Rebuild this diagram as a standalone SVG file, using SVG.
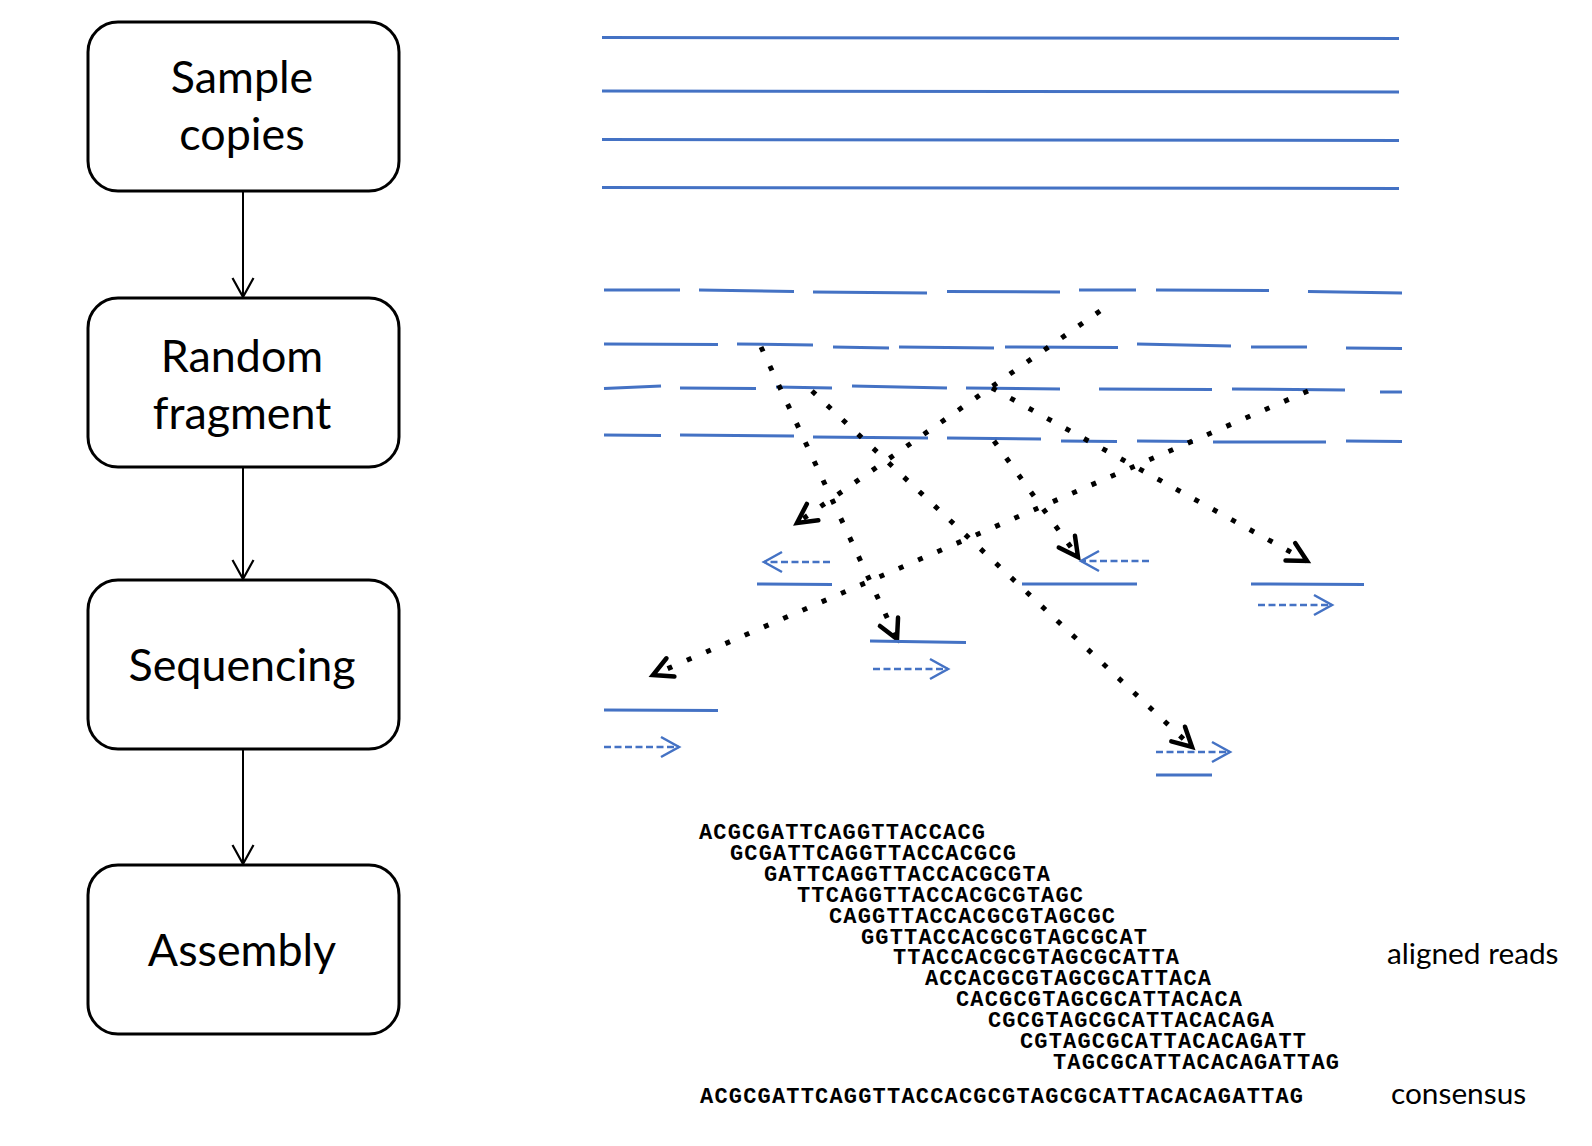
<svg xmlns="http://www.w3.org/2000/svg" width="1592" height="1146" viewBox="0 0 1592 1146">
  <style>
    .box { fill: #ffffff; stroke: #000000; stroke-width: 3; }
    .lbl { font-family: Lato, "Liberation Sans", sans-serif; font-size: 44.8px; fill: #000000; text-anchor: middle; }
    .side { font-family: Lato, "Liberation Sans", sans-serif; font-size: 29.8px; fill: #000000; }
    .flow { stroke: #000000; stroke-width: 2; fill: none; }
    .dna { stroke: #4472C4; stroke-width: 3; fill: none; }
    .read { stroke: #4472C4; stroke-width: 2.5; stroke-dasharray: 7 3.5; fill: none; }
    .dot { stroke: #000000; stroke-width: 5; stroke-dasharray: 5 16; fill: none; }
    .seq { font-family: "Liberation Mono", "Courier New", monospace; font-weight: bold; font-size: 22px; fill: #000000; }
  </style>
  <defs>
    <marker id="flowHead" markerUnits="userSpaceOnUse" viewBox="-22 -13 24 26" markerWidth="24" markerHeight="26" refX="0" refY="0" orient="auto" overflow="visible">
      <path d="M-19,-10.5 L0,0 L-19,10.5" fill="none" stroke="#000000" stroke-width="2.2" stroke-dasharray="none"/>
    </marker>
    <marker id="blueHead" markerUnits="userSpaceOnUse" viewBox="-20 -12 22 24" markerWidth="22" markerHeight="24" refX="0" refY="0" orient="auto" overflow="visible">
      <path d="M-18,-10 L0,0 L-18,10" fill="none" stroke="#4472C4" stroke-width="2.5" stroke-dasharray="none"/>
    </marker>
    <marker id="dotHead" markerUnits="userSpaceOnUse" viewBox="-22 -13 25 26" markerWidth="25" markerHeight="26" refX="0" refY="0" orient="auto" overflow="visible">
      <path d="M-19,-10 L0,0 L-19,10" fill="none" stroke="#000000" stroke-width="4.5" stroke-linecap="round" stroke-linejoin="miter" stroke-dasharray="none"/>
    </marker>
  </defs>

  <g id="node-sample">
    <rect class="box" x="88" y="22" width="311" height="169" rx="30" ry="30"/>
    <text class="lbl" x="242" y="93">Sample</text>
    <text class="lbl" x="242" y="150">copies</text>
  </g>
  <g id="node-fragment">
    <rect class="box" x="88" y="298" width="311" height="169" rx="30" ry="30"/>
    <text class="lbl" x="242" y="372">Random</text>
    <text class="lbl" x="242" y="429">fragment</text>
  </g>
  <g id="node-sequencing">
    <rect class="box" x="88" y="580" width="311" height="169" rx="30" ry="30"/>
    <text class="lbl" x="242" y="681">Sequencing</text>
  </g>
  <g id="node-assembly">
    <rect class="box" x="88" y="865" width="311" height="169" rx="30" ry="30"/>
    <text class="lbl" x="242" y="966">Assembly</text>
  </g>

  <g id="connectors">
    <line class="flow" x1="243" y1="191" x2="243" y2="297" marker-end="url(#flowHead)"/>
    <line class="flow" x1="243" y1="467" x2="243" y2="579" marker-end="url(#flowHead)"/>
    <line class="flow" x1="243" y1="749" x2="243" y2="864" marker-end="url(#flowHead)"/>
  </g>

  <g id="sample-copies">
    <line class="dna" x1="602" y1="37.5" x2="1399" y2="38.5"/>
    <line class="dna" x1="602" y1="91" x2="1399" y2="92"/>
    <line class="dna" x1="602" y1="139.5" x2="1399" y2="140.5"/>
    <line class="dna" x1="602" y1="187.5" x2="1399" y2="188.5"/>
  </g>

  <g id="fragments">
    <line class="dna" x1="604" y1="290" x2="680" y2="290"/>
    <line class="dna" x1="699" y1="290" x2="794" y2="291.5"/>
    <line class="dna" x1="813" y1="292" x2="927" y2="293"/>
    <line class="dna" x1="947" y1="291.5" x2="1060" y2="292"/>
    <line class="dna" x1="1079" y1="290" x2="1136" y2="290"/>
    <line class="dna" x1="1156" y1="290" x2="1269" y2="290.5"/>
    <line class="dna" x1="1308" y1="291.5" x2="1402" y2="293"/>

    <line class="dna" x1="604" y1="344" x2="718" y2="344.5"/>
    <line class="dna" x1="737" y1="344" x2="813" y2="345"/>
    <line class="dna" x1="833" y1="347" x2="889" y2="348"/>
    <line class="dna" x1="899" y1="347" x2="994" y2="348"/>
    <line class="dna" x1="1005" y1="347" x2="1118" y2="347.5"/>
    <line class="dna" x1="1137" y1="344" x2="1231" y2="346"/>
    <line class="dna" x1="1251" y1="347" x2="1307" y2="347"/>
    <line class="dna" x1="1346" y1="348" x2="1402" y2="348.5"/>

    <line class="dna" x1="604" y1="388.5" x2="661" y2="386"/>
    <line class="dna" x1="680" y1="388" x2="756" y2="388.5"/>
    <line class="dna" x1="776" y1="387" x2="832" y2="388"/>
    <line class="dna" x1="852" y1="386" x2="947" y2="388"/>
    <line class="dna" x1="966" y1="388" x2="1060" y2="389"/>
    <line class="dna" x1="1099" y1="389" x2="1212" y2="389.5"/>
    <line class="dna" x1="1232" y1="389" x2="1345" y2="390"/>
    <line class="dna" x1="1380" y1="392" x2="1402" y2="392"/>

    <line class="dna" x1="604" y1="435" x2="661" y2="435.5"/>
    <line class="dna" x1="680" y1="435" x2="794" y2="436"/>
    <line class="dna" x1="813" y1="437" x2="928" y2="438"/>
    <line class="dna" x1="947" y1="438" x2="1041" y2="439"/>
    <line class="dna" x1="1061" y1="441" x2="1117" y2="441.5"/>
    <line class="dna" x1="1137" y1="441" x2="1193" y2="441.5"/>
    <line class="dna" x1="1213" y1="442" x2="1326" y2="442"/>
    <line class="dna" x1="1346" y1="441" x2="1402" y2="441.5"/>
  </g>

  <g id="dotted-arrows">
    <line class="dot" x1="1100" y1="311" x2="797" y2="523" marker-end="url(#dotHead)"/>
    <line class="dot" x1="761" y1="347" x2="897" y2="639" marker-end="url(#dotHead)"/>
    <line class="dot" x1="812" y1="391" x2="1192" y2="747" marker-end="url(#dotHead)"/>
    <line class="dot" x1="992" y1="388" x2="1307" y2="561" marker-end="url(#dotHead)"/>
    <line class="dot" x1="994" y1="441" x2="1078" y2="557" marker-end="url(#dotHead)"/>
    <line class="dot" x1="1308" y1="391" x2="653" y2="675" marker-end="url(#dotHead)"/>
  </g>

  <g id="reads">
    <line class="read" x1="830" y1="562" x2="764" y2="562" marker-end="url(#blueHead)"/>
    <line class="dna" x1="757" y1="584" x2="832" y2="584.5"/>

    <line class="dna" x1="870" y1="641" x2="966" y2="642.5"/>
    <line class="read" x1="873" y1="669" x2="948" y2="669" marker-end="url(#blueHead)"/>

    <line class="dna" x1="604" y1="710" x2="718" y2="710.5"/>
    <line class="read" x1="604" y1="747" x2="679" y2="747" marker-end="url(#blueHead)"/>

    <line class="read" x1="1149" y1="561" x2="1081" y2="561" marker-end="url(#blueHead)"/>
    <line class="dna" x1="1022" y1="584" x2="1137" y2="584"/>

    <line class="dna" x1="1251" y1="584" x2="1364" y2="584.5"/>
    <line class="read" x1="1258" y1="605" x2="1332" y2="605" marker-end="url(#blueHead)"/>

    <line class="read" x1="1156" y1="752" x2="1230" y2="752" marker-end="url(#blueHead)"/>
    <line class="dna" x1="1156" y1="775" x2="1212" y2="775"/>
  </g>

  <g id="alignment">
    <text class="seq" x="699" y="839" textLength="286" lengthAdjust="spacing">ACGCGATTCAGGTTACCACG</text>
    <text class="seq" x="730" y="860" textLength="286" lengthAdjust="spacing">GCGATTCAGGTTACCACGCG</text>
    <text class="seq" x="764" y="881" textLength="286" lengthAdjust="spacing">GATTCAGGTTACCACGCGTA</text>
    <text class="seq" x="797" y="902" textLength="286" lengthAdjust="spacing">TTCAGGTTACCACGCGTAGC</text>
    <text class="seq" x="829" y="923" textLength="286" lengthAdjust="spacing">CAGGTTACCACGCGTAGCGC</text>
    <text class="seq" x="861" y="944" textLength="286" lengthAdjust="spacing">GGTTACCACGCGTAGCGCAT</text>
    <text class="seq" x="893" y="964" textLength="286" lengthAdjust="spacing">TTACCACGCGTAGCGCATTA</text>
    <text class="seq" x="925" y="985" textLength="286" lengthAdjust="spacing">ACCACGCGTAGCGCATTACA</text>
    <text class="seq" x="956" y="1006" textLength="286" lengthAdjust="spacing">CACGCGTAGCGCATTACACA</text>
    <text class="seq" x="988" y="1027" textLength="286" lengthAdjust="spacing">CGCGTAGCGCATTACACAGA</text>
    <text class="seq" x="1020" y="1048" textLength="286" lengthAdjust="spacing">CGTAGCGCATTACACAGATT</text>
    <text class="seq" x="1053" y="1069" textLength="286" lengthAdjust="spacing">TAGCGCATTACACAGATTAG</text>
    <text class="seq" x="700" y="1103" textLength="603" lengthAdjust="spacing">ACGCGATTCAGGTTACCACGCGTAGCGCATTACACAGATTAG</text>
    <text class="side" x="1387" y="964">aligned reads</text>
    <text class="side" x="1391" y="1104">consensus</text>
  </g>
</svg>
